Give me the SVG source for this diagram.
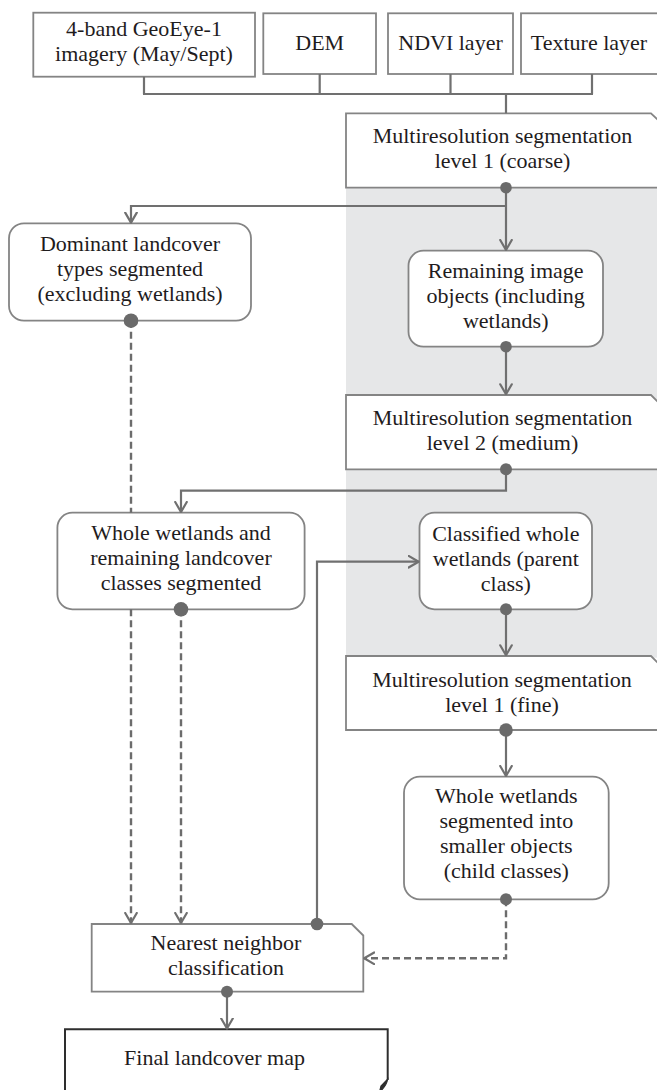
<svg xmlns="http://www.w3.org/2000/svg" width="657" height="1090" viewBox="0 0 657 1090">
<style>
.box{fill:#fff;stroke:#848484;stroke-width:1.8}
.fin{fill:#fff;stroke:#2e2e2e;stroke-width:2}
.t{font-family:"Liberation Serif","Times New Roman",serif;font-size:22px;fill:#1f1c1d;text-anchor:middle}
.ln{fill:none;stroke:#707070;stroke-width:2.2}
.ds{fill:none;stroke:#6c6c6c;stroke-width:2.4;stroke-dasharray:7 4}
.dot{fill:#6a6a6a}
</style>
<defs>
<marker id="ar" viewBox="0 0 12 14" refX="11" refY="7" markerWidth="12" markerHeight="14" markerUnits="userSpaceOnUse" orient="auto">
<path d="M1,1.2 L11,7 L1,12.8" fill="none" stroke="#707070" stroke-width="2.2" stroke-linejoin="round" stroke-linecap="round"/>
</marker>
</defs>
<rect id="shade" x="346" y="187.7" width="311" height="470" fill="#e6e7e8"/>
<g id="n-imagery"><rect class="box" x="33.3" y="12.7" width="221.7" height="64"/><text class="t" x="144" y="36">4-band GeoEye-1</text><text class="t" x="144" y="61">imagery (May/Sept)</text></g>
<g id="n-dem"><rect class="box" x="263.3" y="13.3" width="112.7" height="60.7"/><text class="t" x="319.7" y="50">DEM</text></g>
<g id="n-ndvi"><rect class="box" x="388" y="13.3" width="125" height="60.7"/><text class="t" x="450.5" y="50">NDVI layer</text></g>
<g id="n-texture"><rect class="box" x="521" y="13.3" width="145" height="60.7"/><text class="t" x="589" y="50">Texture layer</text></g>
<g id="n-multi1"><path class="box" d="M346,113.3 H651 L658,120 V187.7 H346 Z"/><text class="t" x="502.5" y="143.3">Multiresolution segmentation</text><text class="t" x="502.5" y="168.3">level 1 (coarse)</text></g>
<g id="n-dominant"><rect class="box" x="9" y="223.3" width="242" height="97.4" rx="15"/><text class="t" x="130" y="251">Dominant landcover</text><text class="t" x="130" y="276">types segmented</text><text class="t" x="130" y="301">(excluding wetlands)</text></g>
<g id="n-remaining"><rect class="box" x="408.5" y="250.7" width="194.5" height="96" rx="15"/><text class="t" x="505.7" y="277.5">Remaining image</text><text class="t" x="505.7" y="302.5">objects (including</text><text class="t" x="505.7" y="327.5">wetlands)</text></g>
<g id="n-multi2"><path class="box" d="M346,395 H651 L658,402 V469.3 H346 Z"/><text class="t" x="502.5" y="425">Multiresolution segmentation</text><text class="t" x="502.5" y="450">level 2 (medium)</text></g>
<g id="n-whole"><rect class="box" x="57.4" y="512.7" width="247.2" height="96.6" rx="15"/><text class="t" x="181" y="540">Whole wetlands and</text><text class="t" x="181" y="565">remaining landcover</text><text class="t" x="181" y="590">classes segmented</text></g>
<g id="n-classified"><rect class="box" x="419.5" y="512.7" width="172.5" height="96.6" rx="15"/><text class="t" x="505.8" y="541">Classified whole</text><text class="t" x="505.8" y="566">wetlands (parent</text><text class="t" x="505.8" y="591">class)</text></g>
<g id="n-multifine"><path class="box" d="M346,656 H651 L658,663 V730 H346 Z"/><text class="t" x="502" y="686.5">Multiresolution segmentation</text><text class="t" x="502" y="711.5">level 1 (fine)</text></g>
<g id="n-whole2"><rect class="box" x="404" y="776.7" width="204.7" height="122.6" rx="16"/><text class="t" x="506.3" y="803">Whole wetlands</text><text class="t" x="506.3" y="828">segmented into</text><text class="t" x="506.3" y="853">smaller objects</text><text class="t" x="506.3" y="878">(child classes)</text></g>
<g id="n-nearest"><path class="box" d="M91.7,924 H351.7 L363.3,935.5 V991.7 H91.7 Z"/><text class="t" x="226" y="950">Nearest neighbor</text><text class="t" x="226" y="975">classification</text></g>
<g id="n-final"><path class="fin" d="M65,1096 V1029.3 H387.7 V1080"/><path d="M387.7,1079 Q386.5,1086 379.5,1092 L381,1086 Z" fill="#2e2e2e" stroke="#2e2e2e" stroke-width="1.2"/><text class="t" x="214.5" y="1065">Final landcover map</text></g>
<g id="connectors">
<path class="ln" d="M144,76.7 V94 M319.7,74 V94 M450.5,74 V94 M592,74 V94 M143,94 H593 M506,94 V113.3"/>
<path class="ln" d="M506,187.7 V250" marker-end="url(#ar)"/>
<path class="ln" d="M506,206 H131 V222.6" marker-end="url(#ar)"/>
<path class="ds" d="M131,320.7 V512.7"/>
<path class="ds" d="M131,609.3 V923" marker-end="url(#ar)"/>
<path class="ln" d="M506,346.7 V394.3" marker-end="url(#ar)"/>
<path class="ln" d="M506,469.3 V490.7 H181 V512" marker-end="url(#ar)"/>
<path class="ds" d="M181,609.3 V923" marker-end="url(#ar)"/>
<path class="ln" d="M506,609.3 V655.3" marker-end="url(#ar)"/>
<path class="ln" d="M506,730 V776" marker-end="url(#ar)"/>
<path class="ds" d="M506,899.3 V958.3 H364.2" marker-end="url(#ar)"/>
<path class="ln" d="M317,924 V561.7 H418.6" marker-end="url(#ar)"/>
<path class="ln" d="M227,991.7 V1028.5" marker-end="url(#ar)"/>
<circle class="dot" cx="506" cy="187.7" r="5.8"/>
<circle class="dot" cx="131" cy="320.7" r="7.3"/>
<circle class="dot" cx="506" cy="346.7" r="5.8"/>
<circle class="dot" cx="506" cy="469.3" r="6"/>
<circle class="dot" cx="181" cy="609.3" r="7.3"/>
<circle class="dot" cx="506" cy="609.3" r="6"/>
<circle class="dot" cx="506" cy="730" r="6.8"/>
<circle class="dot" cx="506" cy="899.3" r="6"/>
<circle class="dot" cx="317" cy="924" r="6.3"/>
<circle class="dot" cx="227" cy="991.7" r="6"/>
</g>
</svg>
